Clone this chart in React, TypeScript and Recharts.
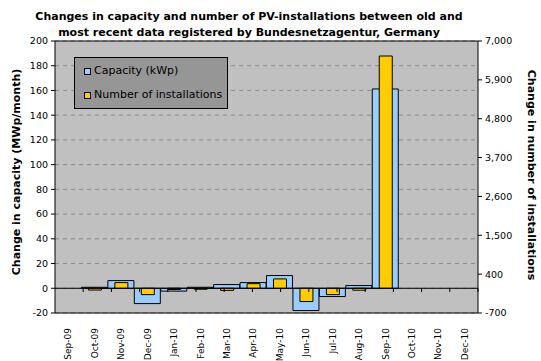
import React from "react"
import {
  BarChart,
  Bar,
  XAxis,
  YAxis,
  CartesianGrid,
  ReferenceLine,
} from "recharts"

const months = [
  "Sep-09", "Oct-09", "Nov-09", "Dec-09", "Jan-10", "Feb-10", "Mar-10", "Apr-10",
  "May-10", "Jun-10", "Jul-10", "Aug-10", "Sep-10", "Oct-10", "Nov-10", "Dec-10",
]
// change in capacity, MWp/month
const capacity = [null, 0.8, 6.2, -12.4, -2.3, 0.8, 3.0, 4.6, 10.3, -18.0, -6.7, 2.2, 161.2, null, null, null]
// change in number of installations
const installations = [null, -50, 160, -180, -35, -28, -60, 130, 265, -375, -180, -55, 6575, null, null, null]

const leftTicks = [-20, 0, 20, 40, 60, 80, 100, 120, 140, 160, 180, 200]
const rightTicks = [-700, 400, 1500, 2600, 3700, 4800, 5900, 7000]

const FONT = "'DejaVu Sans', Verdana, sans-serif"
const CAP_COLOR = "#99ccff"
const NUM_COLOR = "#ffcc00"

const data = months.map((m, i) => ({
  month: m,
  capacity: capacity[i],
  installations: installations[i],
}))

// boundaries between months, where Excel puts its category tick marks
const boundaries = months.map((_, i) => i + 1)

function MonthTick({ x, y, payload }: any) {
  const ty = y + 7
  return (
    <text
      x={x}
      y={ty}
      transform={`rotate(-90, ${x}, ${ty})`}
      textAnchor="end"
      dy="0.35em"
      fontSize={9}
      fontFamily={FONT}
      fill="#000"
    >
      {payload.value}
    </text>
  )
}

export default function App() {
  return (
    <div
      style={{
        position: "absolute",
        left: 0,
        top: 0,
        width: 541,
        height: 361,
        background: "#fff",
        fontFamily: FONT,
      }}
    >
      <div
        style={{
          position: "absolute",
          left: 0,
          top: 9,
          width: 498,
          textAlign: "center",
          fontWeight: "bold",
          fontSize: 11,
          lineHeight: "16px",
          color: "#000",
        }}
      >
        Changes in capacity and number of PV-installations between old and
        <br />
        most recent data registered by Bundesnetzagentur, Germany
      </div>

      <BarChart
        width={541}
        height={361}
        data={data}
        margin={{ top: 41, right: 13, left: 10, bottom: 0 }}
        barCategoryGap={0}
        barGap={0}
      >
        <CartesianGrid
          yAxisId="left"
          vertical={false}
          fill="#c0c0c0"
          stroke="#8a8a8a"
          strokeDasharray="4 4"
        />
        <XAxis
          xAxisId="a"
          dataKey="month"
          height={48}
          interval={0}
          tickLine={false}
          axisLine={{ stroke: "#000" }}
          tick={<MonthTick />}
        />
        <XAxis xAxisId="b" dataKey="month" hide />
        <XAxis xAxisId="n" type="number" domain={[0, 16]} hide />
        <YAxis
          yAxisId="left"
          width={45}
          domain={[-20, 200]}
          ticks={leftTicks}
          interval={0}
          tickSize={4}
          tickMargin={3}
          axisLine={{ stroke: "#000" }}
          tickLine={{ stroke: "#000" }}
          tick={{ fontSize: 9.5, fill: "#000", fontFamily: FONT }}
        />
        <YAxis
          yAxisId="right"
          orientation="right"
          width={50}
          domain={[-700, 7000]}
          ticks={rightTicks}
          interval={0}
          tickSize={4}
          tickMargin={3}
          axisLine={{ stroke: "#000" }}
          tickLine={{ stroke: "#000" }}
          tick={{ fontSize: 9.5, fill: "#000", fontFamily: FONT }}
          tickFormatter={(v: number) => v.toLocaleString("en-US")}
        />
        <Bar
          xAxisId="a"
          yAxisId="left"
          dataKey="capacity"
          name="Capacity (kWp)"
          fill={CAP_COLOR}
          stroke="#000"
          strokeWidth={1}
          isAnimationActive={false}
        />
        <Bar
          xAxisId="b"
          yAxisId="right"
          dataKey="installations"
          name="Number of installations"
          barSize={13}
          fill={NUM_COLOR}
          stroke="#000"
          strokeWidth={1}
          isAnimationActive={false}
        />
        <ReferenceLine xAxisId="a" yAxisId="left" y={0} stroke="#000" />
        <ReferenceLine xAxisId="a" yAxisId="left" y={200} stroke="#000" />
        {boundaries.map((b) => (
          <ReferenceLine
            key={b}
            xAxisId="n"
            yAxisId="left"
            segment={[{ x: b, y: 0 }, { x: b, y: -3 }]}
            stroke="#000"
          />
        ))}
      </BarChart>

      <div
        style={{
          position: "absolute",
          left: 74,
          top: 57,
          width: 152,
          height: 50,
          background: "#969696",
          border: "1px solid #000",
          fontSize: 11,
          color: "#000",
        }}
      >
        {[
          { label: "Capacity (kWp)", color: CAP_COLOR },
          { label: "Number of installations", color: NUM_COLOR },
        ].map((item, i) => (
          <div
            key={item.label}
            style={{
              position: "absolute",
              left: 9,
              top: 6 + i * 24,
              display: "flex",
              alignItems: "center",
              whiteSpace: "nowrap",
              lineHeight: "14px",
            }}
          >
            <span
              style={{
                display: "inline-block",
                width: 5,
                height: 5,
                background: item.color,
                border: "1px solid #000",
                marginRight: 3,
              }}
            />
            {item.label}
          </div>
        ))}
      </div>

      <div
        style={{
          position: "absolute",
          left: 17,
          top: 172,
          transform: "translate(-50%, -50%) rotate(-90deg)",
          whiteSpace: "nowrap",
          fontWeight: "bold",
          fontSize: 11,
          lineHeight: "12px",
        }}
      >
        Change in capacity (MWp/month)
      </div>
      <div
        style={{
          position: "absolute",
          left: 531,
          top: 175,
          transform: "translate(-50%, -50%) rotate(90deg)",
          whiteSpace: "nowrap",
          fontWeight: "bold",
          fontSize: 11,
          lineHeight: "12px",
        }}
      >
        Change in number of installations
      </div>
    </div>
  )
}
